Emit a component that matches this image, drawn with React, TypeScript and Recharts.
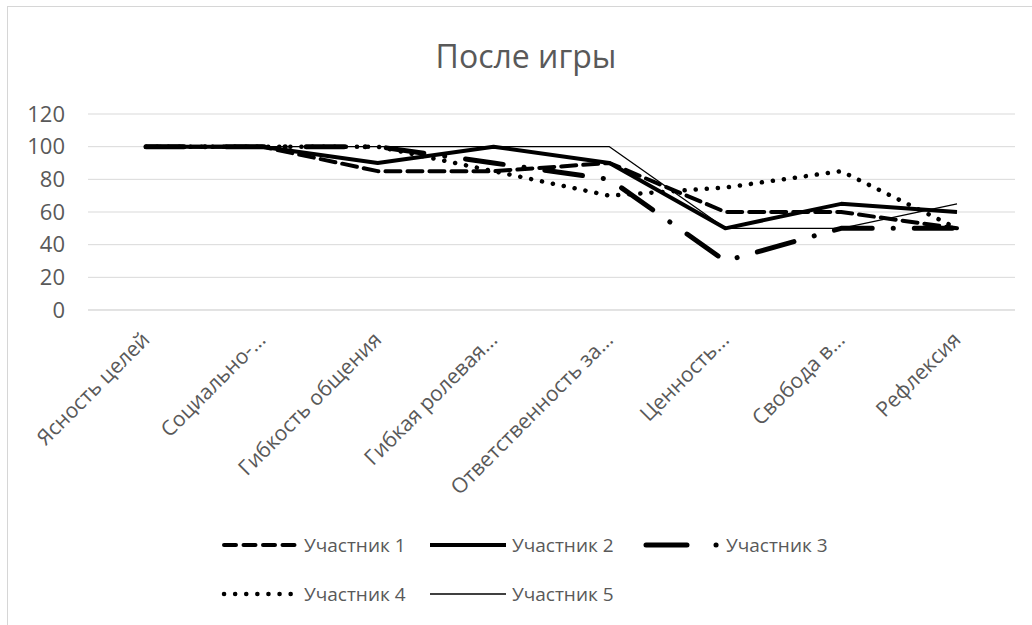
import { LineChart, Line, XAxis, YAxis, CartesianGrid } from 'recharts'

const categories = [
  'Ясность целей',
  'Социально-...',
  'Гибкость общения',
  'Гибкая ролевая...',
  'Ответственность за...',
  'Ценность...',
  'Свобода в...',
  'Рефлексия',
]

const participant1 = [100, 100, 85, 85, 90, 60, 60, 50]
const participant2 = [100, 100, 90, 100, 90, 50, 65, 60]
const participant3 = [100, 100, 100, 90, 80, 30, 50, 50]
const participant4 = [100, 100, 100, 85, 70, 75, 85, 50]
const participant5 = [100, 100, 100, 100, 100, 50, 50, 65]

const seriesNames = ['Участник 1', 'Участник 2', 'Участник 3', 'Участник 4', 'Участник 5']
const yTicks = [0, 20, 40, 60, 80, 100, 120]

const data = categories.map((name, i) => ({
  name,
  p1: participant1[i],
  p2: participant2[i],
  p3: participant3[i],
  p4: participant4[i],
  p5: participant5[i],
}))

const FONT = '"Open Sans", "Noto Sans", sans-serif'
const TEXT = '#595959'
const GRID = '#d9d9d9'

// line styles, same order as seriesNames
const styles = [
  { key: 'p1', width: 4, dash: '15 7', legendDash: '12 7.5', cap: 'round' as const },
  { key: 'p2', width: 4, dash: undefined, legendDash: undefined, cap: 'butt' as const },
  { key: 'p3', width: 5, dash: '38 21 0.1 21', legendDash: '41 29 0.1 100', cap: 'round' as const },
  { key: 'p4', width: 4.5, dash: '0.1 11', legendDash: '0.1 11', cap: 'round' as const },
  { key: 'p5', width: 1.3, dash: undefined, legendDash: undefined, cap: 'butt' as const },
]

const legendPos = [
  { x: 222, y: 545 },
  { x: 430, y: 545 },
  { x: 644, y: 545 },
  { x: 222, y: 594 },
  { x: 430, y: 594 },
]

function XTick(props: any) {
  const { x, payload } = props
  return (
    <g transform={`translate(${x + 5},341)`}>
      <text textAnchor="end" transform="rotate(-45)" fill={TEXT} fontSize={21} fontFamily={FONT}>
        {payload.value}
      </text>
    </g>
  )
}

export default function App() {
  return (
    <div style={{ position: 'fixed', left: 0, top: 0, width: 1032, height: 625, background: '#fff', overflow: 'hidden' }}>
      {/* chart frame */}
      <div
        style={{
          position: 'absolute',
          left: 7,
          top: 6,
          width: 1100,
          height: 700,
          border: '1.5px solid #d6d6d6',
        }}
      />
      <div style={{ position: 'absolute', left: 0, top: 0 }}>
        <LineChart width={1032} height={625} data={data} margin={{ top: 114, right: 17, bottom: 115, left: 18 }}>
          <CartesianGrid vertical={false} stroke={GRID} strokeWidth={1} />
          <XAxis
            dataKey="name"
            height={200}
            padding={{ left: 58, right: 58 }}
            axisLine={{ stroke: GRID }}
            tickLine={false}
            interval={0}
            tick={<XTick />}
          />
          <YAxis
            width={70}
            domain={[0, 120]}
            ticks={yTicks}
            axisLine={false}
            tickLine={false}
            tickMargin={17}
            tick={{ fill: TEXT, fontSize: 22, fontFamily: FONT }}
          />
          {styles.map(s => (
            <Line
              key={s.key}
              dataKey={s.key}
              type="linear"
              stroke="#000"
              strokeWidth={s.width}
              strokeDasharray={s.dash}
              strokeLinecap={s.cap}
              strokeLinejoin="round"
              dot={false}
              activeDot={false}
              isAnimationActive={false}
            />
          ))}
        </LineChart>
      </div>
      {/* title + legend */}
      <svg width={1032} height={625} style={{ position: 'absolute', left: 0, top: 0, pointerEvents: 'none' }}>
        <text x={526} y={68} textAnchor="middle" fill={TEXT} fontSize={32} fontFamily={FONT}>
          После игры
        </text>
        {seriesNames.map((name, i) => {
          const p = legendPos[i]
          const s = styles[i]
          return (
            <g key={name}>
              <line
                x1={p.x + (s.cap === 'round' ? 2 : 0)}
                x2={p.x + 76}
                y1={p.y}
                y2={p.y}
                stroke="#000"
                strokeWidth={s.width}
                strokeDasharray={s.legendDash}
                strokeLinecap={s.cap}
              />
              <text x={p.x + 82} y={p.y + 7} fill={TEXT} fontSize={19} fontFamily={FONT}>
                {name}
              </text>
            </g>
          )
        })}
      </svg>
    </div>
  )
}
